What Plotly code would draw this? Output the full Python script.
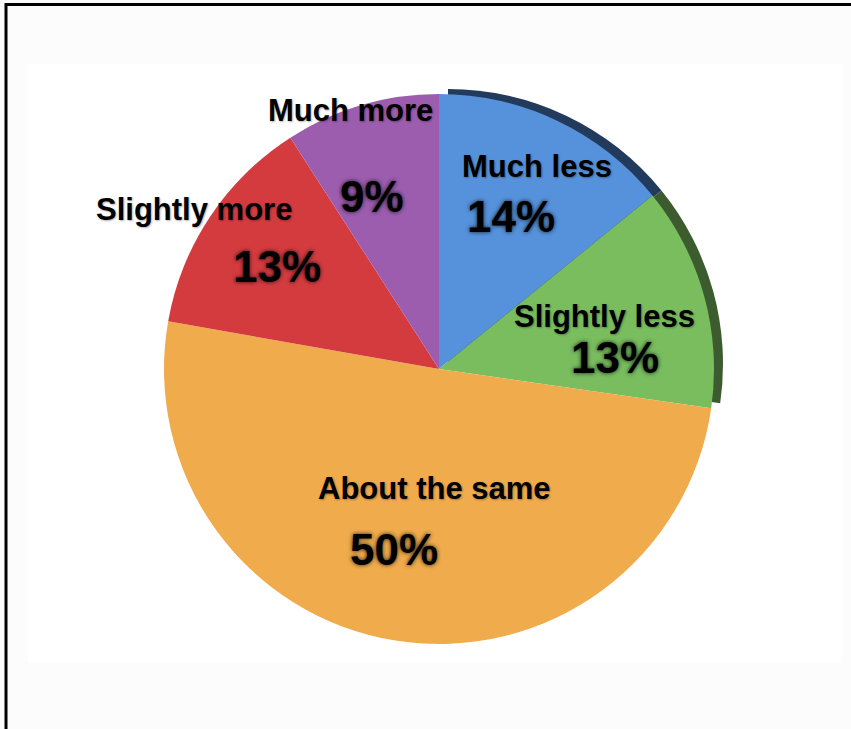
import plotly.graph_objects as go

labels = ["Much less", "Slightly less", "About the same", "Slightly more", "Much more"]
values = [14, 13, 50, 13, 9]
face_colors = ["#5692db", "#79bd5f", "#efab4c", "#d43b3f", "#9c5daf"]
rim_colors = ["#223a5b", "#3c5c30", "rgba(0,0,0,0)", "rgba(0,0,0,0)", "rgba(0,0,0,0)"]
pct_text = ["14%", "13%", "50%", "13%", "9%"]

W, H = 851, 729
cx, cy, r = 439, 369, 275

def dom(cx, cy, r):
    return dict(x=[(cx - r) / W, (cx + r) / W], y=[1 - (cy + r) / H, 1 - (cy - r) / H])

fig = go.Figure()
# 3D rim (drawn behind)
fig.add_trace(go.Pie(labels=labels, values=values, sort=False, direction="clockwise", rotation=0,
                     marker=dict(colors=rim_colors, line=dict(width=0)), textinfo="none",
                     hoverinfo="skip", showlegend=False, domain=dom(cx + 9, cy - 5, r)))
fig.add_trace(go.Pie(labels=labels, values=values, sort=False, direction="clockwise", rotation=0,
                     marker=dict(colors=face_colors, line=dict(width=0)), textinfo="none",
                     showlegend=False, domain=dom(cx, cy, r)))

# label positions (pixels)
label_pos = [(537, 166), (604, 316), (434, 488), (194, 209), (350, 110)]
pct_pos = [(511, 216), (615, 357), (394, 549), (277, 266), (372, 197)]

annotations = []
for lab, (x, y) in zip(labels, label_pos):
    annotations.append(dict(text="<b>%s</b>" % lab, x=x / W, y=1 - y / H, xref="paper", yref="paper",
                            xanchor="center", yanchor="middle", showarrow=False,
                            font=dict(family="Liberation Sans, Arial", size=31, color="#000",
                                      shadow="1px 1px 2px rgba(0,0,0,0.3)")))
for t, (x, y) in zip(pct_text, pct_pos):
    annotations.append(dict(text="<b>%s</b>" % t, x=x / W, y=1 - y / H, xref="paper", yref="paper",
                            xanchor="center", yanchor="middle", showarrow=False,
                            font=dict(family="Liberation Sans, Arial", size=44, color="#000",
                                      shadow="0px 0px 4px rgba(0,0,0,0.8)")))

shapes = [
    dict(type="rect", xref="paper", yref="paper", x0=0, x1=1, y0=0, y1=1,
         fillcolor="#fcfcfc", line=dict(width=0), layer="below"),
    dict(type="rect", xref="paper", yref="paper", x0=28 / W, x1=842 / W, y0=1 - 663 / H, y1=1 - 64 / H,
         fillcolor="#ffffff", line=dict(width=0), layer="below"),
    dict(type="line", xref="paper", yref="paper", x0=5 / W, x1=1, y0=1 - 4.5 / H, y1=1 - 4.5 / H,
         line=dict(color="#000", width=3)),
    dict(type="line", xref="paper", yref="paper", x0=6 / W, x1=6 / W, y0=0, y1=1 - 3 / H,
         line=dict(color="#000", width=3)),
]

fig.update_layout(width=W, height=H, margin=dict(l=0, r=0, t=0, b=0),
                  paper_bgcolor="#ffffff", plot_bgcolor="#ffffff",
                  annotations=annotations, shapes=shapes, showlegend=False)

fig.write_html("out.html", config={"displayModeBar": False},
               post_script="document.body.style.margin='0';document.body.style.overflow='hidden';")
